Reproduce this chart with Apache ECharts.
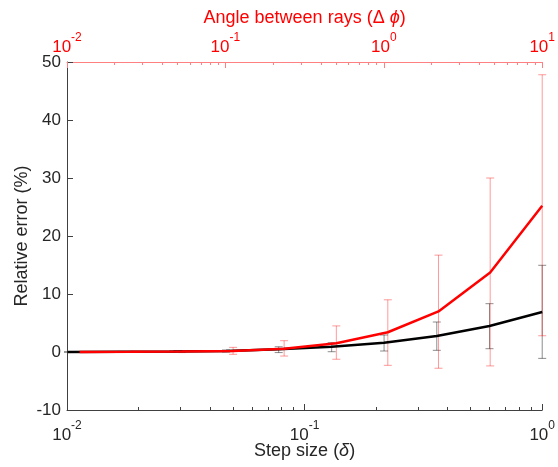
<!DOCTYPE html>
<html>
<head>
<meta charset="utf-8">
<script src="https://cdn.jsdelivr.net/npm/echarts@6/dist/echarts.min.js"></script>
<style>
  html, body { margin: 0; padding: 0; background: #fff; }
  #chart { width: 558px; height: 467px; }
</style>
</head>
<body>
<div id="chart"></div>
<script>
// step size (delta) positions and relative error, black curve
const stepX = [0.0101, 0.0168, 0.028, 0.0467, 0.0778, 0.13, 0.216, 0.36, 0.6, 1.0];
const blackMean = [0.0, 0.03, 0.07, 0.17, 0.46, 0.9, 1.6, 2.76, 4.48, 6.9];
const blackLow = [-0.05, -0.05, -0.05, 0.0, -0.1, 0.05, 0.17, 0.29, 0.57, -1.1];
const blackHigh = [0.05, 0.1, 0.2, 0.35, 0.9, 1.6, 2.93, 5.17, 8.33, 14.95];

// red curve (angle between rays), placed on the step-size scale
const redX = [0.0113, 0.0185, 0.0305, 0.05, 0.082, 0.136, 0.224, 0.366, 0.604, 1.0];
const redMean = [0.02, 0.04, 0.08, 0.18, 0.55, 1.5, 3.4, 7.0, 13.7, 25.2];
const redLow = [0.0, -0.05, -0.1, -0.4, -0.7, -1.25, -2.3, -2.8, -2.4, 2.8];
const redHigh = [0.05, 0.12, 0.25, 0.8, 1.95, 4.5, 9.0, 16.7, 30.0, 47.8];

const yMin = -10, yMax = 50, yStep = 10;

const FONT = "Liberation Sans";
const TXT = "#262626";

function powLabel(v) {
  const e = Math.round(Math.log10(v));
  return "{b|10}{s|" + e + "}";
}
function richFor(color) {
  return {
    b: { fontSize: 17, color: color, fontFamily: FONT, verticalAlign: "bottom", lineHeight: 24 },
    s: { fontSize: 12, color: color, fontFamily: FONT, verticalAlign: "top", lineHeight: 24, padding: [0, 0, 8, 0] }
  };
}

function errRender(color) {
  return function (params, api) {
    const x = api.value(0);
    const top = api.coord([x, api.value(2)]);
    const bot = api.coord([x, api.value(1)]);
    const w = 4;
    const st = { stroke: color, lineWidth: 1 };
    return {
      type: "group",
      children: [
        { type: "line", shape: { x1: top[0], y1: top[1], x2: bot[0], y2: bot[1] }, style: st },
        { type: "line", shape: { x1: top[0] - w, y1: top[1], x2: top[0] + w, y2: top[1] }, style: st },
        { type: "line", shape: { x1: bot[0] - w, y1: bot[1], x2: bot[0] + w, y2: bot[1] }, style: st }
      ]
    };
  };
}

const chart = echarts.init(document.getElementById("chart"));
chart.setOption({
  animation: false,
  textStyle: { fontFamily: FONT },
  grid: { left: 67, right: 14, top: 62, bottom: 57, containLabel: false },
  xAxis: [
    {
      type: "log", logBase: 10, min: 0.01, max: 1, position: "bottom",
      name: "Step size ({i|δ})", nameLocation: "middle", nameGap: 32, nameMoveOverlap: false,
      nameTextStyle: { fontSize: 18, color: TXT, fontFamily: FONT,
        rich: { i: { fontStyle: "italic", fontSize: 18, color: TXT, fontFamily: FONT } } },
      axisLine: { show: true, onZero: false, lineStyle: { color: "#404040", width: 1 } },
      axisTick: { show: true, inside: true, length: 6, lineStyle: { color: "#404040" } },
      minorTick: { show: true, splitNumber: 9, length: 3, lineStyle: { color: "#404040" } },
      splitLine: { show: false },
      axisLabel: { formatter: powLabel, rich: richFor(TXT), margin: 10, showMinLabel: true, showMaxLabel: true }
    },
    {
      type: "log", logBase: 10, min: 0.01, max: 10, position: "top",
      name: "Angle between rays (Δ {i|ϕ})", nameLocation: "middle", nameGap: 35, nameMoveOverlap: false,
      nameTextStyle: { fontSize: 18, color: "#ff0000", fontFamily: FONT,
        rich: { i: { fontStyle: "italic", fontSize: 18, color: "#ff0000", fontFamily: FONT } } },
      axisLine: { show: true, onZero: false, lineStyle: { color: "#ff8080", width: 1 } },
      axisTick: { show: true, inside: true, length: 6, lineStyle: { color: "#ff8080" } },
      minorTick: { show: true, splitNumber: 9, length: 3, lineStyle: { color: "#ff8080" } },
      splitLine: { show: false },
      axisLabel: { formatter: powLabel, rich: richFor("#ff0000"), margin: 6, showMinLabel: true, showMaxLabel: true }
    }
  ],
  yAxis: {
    type: "value", min: yMin, max: yMax, interval: yStep,
    name: "Relative error (%)", nameLocation: "middle", nameGap: 36, nameMoveOverlap: false,
    nameTextStyle: { fontSize: 18, color: TXT, fontFamily: FONT },
    axisLine: { show: true, lineStyle: { color: "#404040", width: 1 } },
    axisTick: { show: true, inside: true, length: 6, lineStyle: { color: "#404040" } },
    splitLine: { show: false },
    axisLabel: { fontSize: 17, color: TXT, fontFamily: FONT, margin: 6 }
  },
  series: [
    {
      type: "custom", xAxisIndex: 0, renderItem: errRender("rgba(0,0,0,0.45)"),
      encode: { x: 0, y: [1, 2] },
      data: stepX.map((x, i) => [x, blackLow[i], blackHigh[i]]), z: 1
    },
    {
      type: "custom", xAxisIndex: 0, renderItem: errRender("rgba(255,0,0,0.4)"),
      encode: { x: 0, y: [1, 2] },
      data: redX.map((x, i) => [x, redLow[i], redHigh[i]]), z: 1
    },
    {
      type: "line", xAxisIndex: 0, showSymbol: false, z: 3,
      lineStyle: { color: "#000000", width: 2.5 },
      data: stepX.map((x, i) => [x, blackMean[i]])
    },
    {
      type: "line", xAxisIndex: 0, showSymbol: false, z: 4,
      lineStyle: { color: "#ff0000", width: 2.5 },
      data: redX.map((x, i) => [x, redMean[i]])
    }
  ]
});
</script>
</body>
</html>
